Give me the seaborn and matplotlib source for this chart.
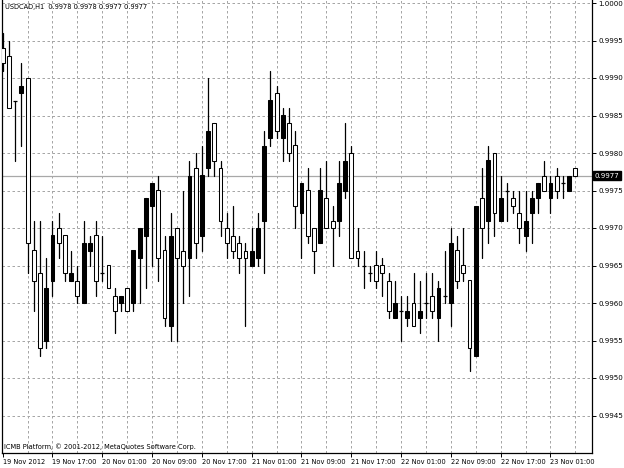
import matplotlib
matplotlib.use("Agg")
import numpy as np
import pandas as pd
import matplotlib.pyplot as plt
import matplotlib.transforms as mtransforms
import seaborn as sns

# USDCAD H1, one bar per hour, first bar 19 Nov 2012 09:00
opens = [0.9994, 0.9993, 0.9987, 0.9988, 0.9990, 0.9967, 0.9964, 0.9955, 0.9963, 0.9970,
         0.9969, 0.9963, 0.9963, 0.9960, 0.9967, 0.9969, 0.9964, 0.9965, 0.9961, 0.9960,
         0.9962, 0.9960, 0.9966, 0.9969, 0.9973, 0.9975, 0.9967, 0.9957, 0.9970, 0.9967,
         0.9966, 0.9978, 0.9969, 0.9978, 0.9984, 0.9978, 0.9970, 0.9969, 0.9968, 0.9967,
         0.9965, 0.9966, 0.9971, 0.9982, 0.9988, 0.9982, 0.9984, 0.9981, 0.9972, 0.9975,
         0.9970, 0.9968, 0.9974, 0.9971, 0.9971, 0.9975, 0.9980, 0.9967, 0.9965, 0.9964,
         0.9965, 0.9965, 0.9963, 0.9958, 0.9959, 0.9958, 0.9960, 0.9958, 0.9960, 0.9961,
         0.9958, 0.9961, 0.9960, 0.9967, 0.9965, 0.9963, 0.9953, 0.9974, 0.9971, 0.9980,
         0.9971, 0.9975, 0.9974, 0.9972, 0.9969, 0.9972, 0.9974, 0.9977, 0.9974, 0.9977,
         0.9976, 0.9975, 0.9978]
highs = [0.9996, 0.9995, 0.9987, 0.9992, 0.9990, 0.9971, 0.9971, 0.9966, 0.9971, 0.9972,
         0.9969, 0.9967, 0.9965, 0.9971, 0.9969, 0.9971, 0.9969, 0.9965, 0.9962, 0.9961,
         0.9962, 0.9967, 0.9970, 0.9974, 0.9976, 0.9977, 0.9969, 0.9972, 0.9970, 0.9975,
         0.9979, 0.9980, 0.9981, 0.9990, 0.9984, 0.9979, 0.9972, 0.9973, 0.9969, 0.9968,
         0.9970, 0.9972, 0.9983, 0.9991, 0.9989, 0.9986, 0.9986, 0.9983, 0.9976, 0.9978,
         0.9970, 0.9978, 0.9979, 0.9973, 0.9979, 0.9984, 0.9981, 0.9970, 0.9967, 0.9965,
         0.9967, 0.9966, 0.9964, 0.9963, 0.9961, 0.9961, 0.9964, 0.9963, 0.9964, 0.9964,
         0.9963, 0.9967, 0.9970, 0.9969, 0.9970, 0.9963, 0.9973, 0.9978, 0.9981, 0.9980,
         0.9977, 0.9976, 0.9975, 0.9975, 0.9975, 0.9975, 0.9976, 0.9979, 0.9977, 0.9978,
         0.9977, 0.9977, 0.9978]
lows = [0.9991, 0.9986, 0.9979, 0.9981, 0.9964, 0.9959, 0.9953, 0.9954, 0.9961, 0.9966,
        0.9963, 0.9963, 0.9960, 0.9960, 0.9965, 0.9961, 0.9963, 0.9962, 0.9956, 0.9959,
        0.9959, 0.9959, 0.9960, 0.9962, 0.9965, 0.9963, 0.9957, 0.9955, 0.9955, 0.9960,
        0.9961, 0.9966, 0.9967, 0.9977, 0.9977, 0.9969, 0.9966, 0.9966, 0.9964, 0.9957,
        0.9965, 0.9965, 0.9964, 0.9981, 0.9982, 0.9979, 0.9979, 0.9970, 0.9966, 0.9968,
        0.9964, 0.9968, 0.9970, 0.9965, 0.9969, 0.9974, 0.9966, 0.9965, 0.9962, 0.9963,
        0.9962, 0.9961, 0.9958, 0.9958, 0.9955, 0.9957, 0.9957, 0.9956, 0.9958, 0.9958,
        0.9955, 0.9960, 0.9957, 0.9962, 0.9963, 0.9951, 0.9953, 0.9966, 0.9968, 0.9969,
        0.9971, 0.9971, 0.9972, 0.9968, 0.9967, 0.9968, 0.9972, 0.9975, 0.9972, 0.9974,
        0.9974, 0.9975, 0.9977]
closes = [0.9992, 0.9986, 0.9987, 0.9989, 0.9968, 0.9963, 0.9954, 0.9962, 0.9969, 0.9968,
          0.9964, 0.9964, 0.9961, 0.9968, 0.9968, 0.9963, 0.9964, 0.9962, 0.9959, 0.9961,
          0.9959, 0.9967, 0.9970, 0.9974, 0.9976, 0.9966, 0.9958, 0.9969, 0.9966, 0.9965,
          0.9977, 0.9968, 0.9977, 0.9983, 0.9979, 0.9971, 0.9968, 0.9967, 0.9966, 0.9966,
          0.9967, 0.9970, 0.9981, 0.9987, 0.9983, 0.9985, 0.9980, 0.9973, 0.9976, 0.9969,
          0.9967, 0.9975, 0.9970, 0.9970, 0.9976, 0.9979, 0.9966, 0.9966, 0.9965, 0.9964,
          0.9963, 0.9964, 0.9959, 0.9960, 0.9959, 0.9959, 0.9957, 0.9959, 0.9960, 0.9959,
          0.9962, 0.9961, 0.9968, 0.9963, 0.9964, 0.9954, 0.9973, 0.9970, 0.9979, 0.9972,
          0.9974, 0.9975, 0.9973, 0.9970, 0.9971, 0.9974, 0.9976, 0.9975, 0.9976, 0.9975,
          0.9976, 0.9977, 0.9977]

time_labels = ["19 Nov 2012", "19 Nov 17:00", "20 Nov 01:00", "20 Nov 09:00",
               "20 Nov 17:00", "21 Nov 01:00", "21 Nov 09:00", "21 Nov 17:00",
               "22 Nov 01:00", "22 Nov 09:00", "22 Nov 17:00", "23 Nov 01:00"]
price_ticks = [0.9945, 0.9950, 0.9955, 0.9960, 0.9965, 0.9970, 0.9975,
               0.9980, 0.9985, 0.9990, 0.9995, 1.0000]
last_price = 0.9977

df = pd.DataFrame({"open": opens, "high": highs, "low": lows, "close": closes})
df["bar"] = np.arange(len(df))

sns.set_style("white")
plt.rcParams["font.family"] = ["DejaVu Sans"]
fs = 4.8
fs_y = 5.1

fig = plt.figure(figsize=(6.24, 4.68), dpi=100)
ax = fig.add_axes([2 / 624, 15 / 468, 590 / 624, 453 / 468])

# wicks, one line per bar
wicks = pd.concat([df[["bar", "high"]].rename(columns={"high": "price"}),
                   df[["bar", "low"]].rename(columns={"low": "price"})])
sns.lineplot(data=wicks, x="bar", y="price", units="bar", estimator=None,
             sort=False, color="black", lw=0.9, ax=ax, zorder=3)

diff = (df["close"] - df["open"]).round(6)
bw = 0.62
down = df[diff < 0]
up = df[diff > 0]
flat = df[diff == 0]
ax.bar(down["bar"], down["open"] - down["close"], bottom=down["close"], width=bw,
       facecolor="white", edgecolor="black", linewidth=0.75, zorder=4)
ax.bar(up["bar"], up["close"] - up["open"], bottom=up["open"], width=bw,
       facecolor="black", edgecolor="black", linewidth=0.75, zorder=4)
ax.hlines(flat["close"], flat["bar"] - bw / 2, flat["bar"] + bw / 2,
          color="black", lw=0.9, zorder=4)

ax.set_xlim(-0.11, 94.67)
ax.set_ylim(0.9940, 1.00004)

# grid
grid_kw = dict(color="#a6a6a6", lw=0.72, linestyle=(0, (2.5, 2.5)), zorder=1)
for b in range(4, len(df), 4):
    ax.axvline(b, **grid_kw)
for p in price_ticks:
    ax.axhline(p, **grid_kw)
ax.axhline(last_price, color="#a8a8a8", lw=0.9, zorder=2)

# axes, ticks
ax.set_xlabel("")
ax.set_ylabel("")
ax.set_xticks(range(0, 8 * len(time_labels), 8))
ax.set_xticklabels(time_labels, ha="left", fontsize=fs)
ax.yaxis.tick_right()
ax.set_yticks(price_ticks)
ax.set_yticklabels([f"{p:.4f}" for p in price_ticks], fontsize=fs_y)
ax.tick_params(axis="x", direction="out", length=3, width=0.7, pad=1.5,
               bottom=True, colors="black")
ax.tick_params(axis="y", direction="out", length=3, width=0.7, pad=1.5,
               right=True, left=False, colors="black")
for s in ["left", "right", "bottom"]:
    ax.spines[s].set_color("black")
    ax.spines[s].set_linewidth(0.9)
ax.spines["top"].set_visible(False)

trans = mtransforms.blended_transform_factory(ax.transAxes, ax.transData)
ax.text(1.0045, last_price, f"{last_price:.4f}", transform=trans, ha="left",
        va="center", color="white", fontsize=fs_y, zorder=6,
        bbox=dict(boxstyle="square,pad=0.25", fc="black", ec="black"))

ax.text(0.005, 0.992, "USDCAD,H1  0.9978 0.9978 0.9977 0.9977", transform=ax.transAxes,
        ha="left", va="top", fontsize=fs, color="black")
ax.text(0.003, 0.006, "ICMB Platform, © 2001-2012, MetaQuotes Software Corp.",
        transform=ax.transAxes, ha="left", va="bottom", fontsize=fs, color="black")

fig.savefig("out.png", dpi=100, facecolor="white")
